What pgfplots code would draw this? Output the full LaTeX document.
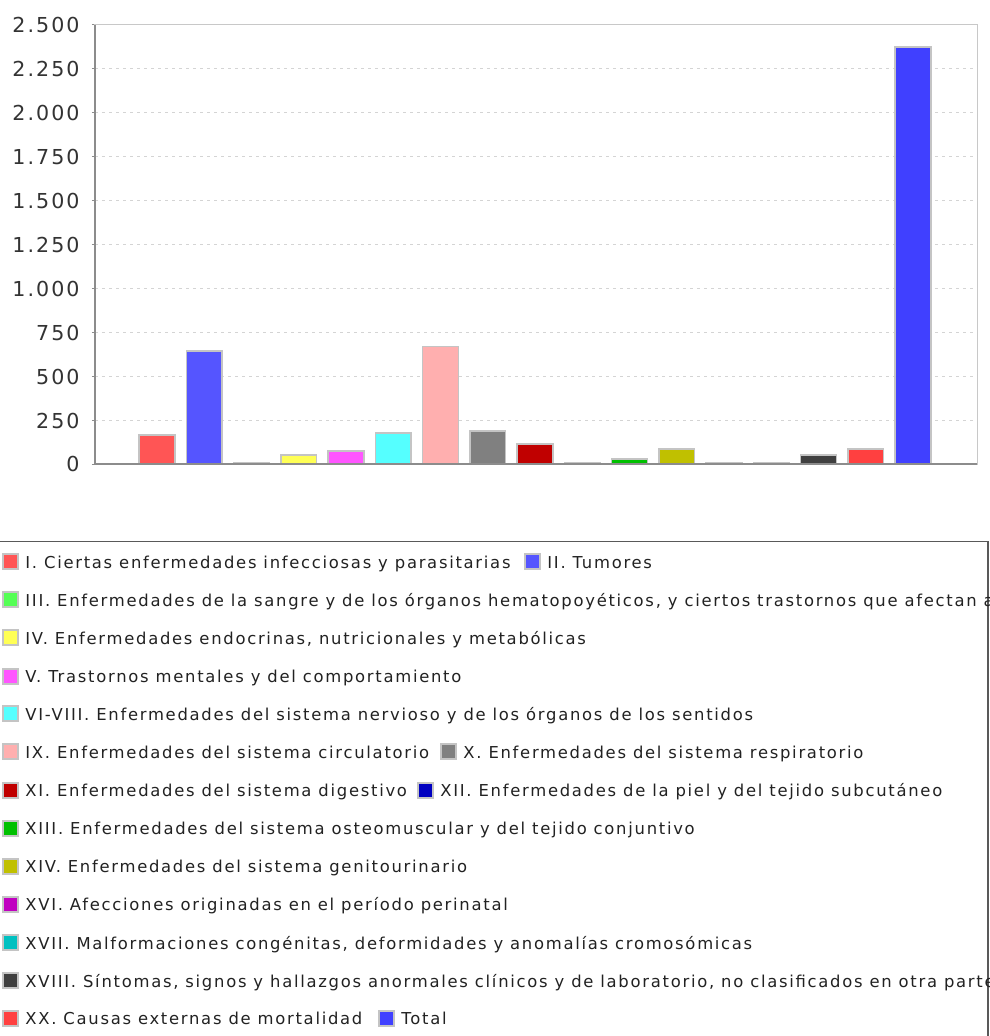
\documentclass[border=0pt]{standalone}
\usepackage{fontspec}
\setmainfont{DejaVu Sans}
\newfontfamily\legfont[LetterSpace=10.5]{DejaVu Sans}
\newfontfamily\tickfont[LetterSpace=10]{DejaVu Sans}
\usepackage{pgfplots}
\pgfplotsset{compat=1.18}
\definecolor{cI}{HTML}{FF5555}
\definecolor{cII}{HTML}{5555FF}
\definecolor{cIII}{HTML}{55FF55}
\definecolor{cIV}{HTML}{FFFF55}
\definecolor{cV}{HTML}{FF55FF}
\definecolor{cVI}{HTML}{55FFFF}
\definecolor{cIX}{HTML}{FFAFAF}
\definecolor{cX}{HTML}{808080}
\definecolor{cXI}{HTML}{C00000}
\definecolor{cXII}{HTML}{0000C0}
\definecolor{cXIII}{HTML}{00C000}
\definecolor{cXIV}{HTML}{C0C000}
\definecolor{cXVI}{HTML}{C000C0}
\definecolor{cXVII}{HTML}{00C0C0}
\definecolor{cXVIII}{HTML}{404040}
\definecolor{cXX}{HTML}{FF4040}
\definecolor{cTot}{HTML}{4040FF}
\definecolor{barline}{HTML}{C4C4C4}
\definecolor{gridc}{HTML}{D4D4D4}
\definecolor{axc}{HTML}{8C8C8C}
\definecolor{framec}{HTML}{C8C8C8}
\definecolor{txt}{HTML}{222222}
\definecolor{tickc}{HTML}{333333}
% coordinates given in image pixels (x right, y down); 1px = 0.5pt
\newcommand{\entry}[4]{%
  \filldraw[draw=barline, line width=1, fill=#3] ({#1},{1036-#2+7.5}) rectangle ({#1+15},{1036-#2-7.5});
  \node[anchor=base west, inner sep=0pt, text=txt, font=\legfont\fontsize{8.2}{9}\selectfont] at ({#1+22},{1036-#2-6.5}) {#4};}
\begin{document}
\begin{tikzpicture}[x=0.5pt,y=0.5pt]
\useasboundingbox (0,0) rectangle (989,1036);
\fill[white] (0,0) rectangle (989,1036);
\begin{axis}[
  at={(47.5pt,285.75pt)}, anchor=south west,
  scale only axis, width=441pt, height=219.75pt,
  xmin=-1.312, xmax=17.354, ymin=0, ymax=2500,
  xtick=\empty,
  ytick distance=250, ytick pos=left,
  tick align=outside, major tick length=1.5pt,
  every tick/.style={axc, line width=0.5pt},
  /pgf/number format/.cd, use comma, 1000 sep={.}, assume math mode=true,
  /pgfplots/.cd,
  yticklabel style={font=\tickfont\fontsize{10.3}{12}\selectfont, text=tickc, inner sep=0pt, xshift=-6pt},
  ymajorgrids, major grid style={gridc, dash pattern=on 1.5pt off 2pt, line width=0.5pt},
  axis line style={framec, line width=0.5pt},
  every axis plot/.append style={ybar, bar width=0.76, bar shift=0pt, draw=barline, line width=0.75pt},
  clip=false,
]
\addplot[fill=cI] coordinates {(0,168)};
\addplot[fill=cII] coordinates {(1,645)};
\addplot[fill=cIII] coordinates {(2,10)};
\addplot[fill=cIV] coordinates {(3,53)};
\addplot[fill=cV] coordinates {(4,76)};
\addplot[fill=cVI] coordinates {(5,178)};
\addplot[fill=cIX] coordinates {(6,672)};
\addplot[fill=cX] coordinates {(7,191)};
\addplot[fill=cXI] coordinates {(8,117)};
\addplot[fill=cXII] coordinates {(9,10)};
\addplot[fill=cXIII] coordinates {(10,32)};
\addplot[fill=cXIV] coordinates {(11,89)};
\addplot[fill=cXVI] coordinates {(12,10)};
\addplot[fill=cXVII] coordinates {(13,10)};
\addplot[fill=cXVIII] coordinates {(14,53)};
\addplot[fill=cXX] coordinates {(15,89)};
\addplot[fill=cTot] coordinates {(16,2375)};
\draw[axc, line width=1pt] (rel axis cs:0,1) -- (rel axis cs:0,0) -- (rel axis cs:1,0);
\end{axis}
% legend
\draw[draw=black!65, line width=0.75pt] (-20,-30) -- (-20,{1036-541.5}) -- (988,{1036-541.5}) -- (988,-30);
\entry{3}{562}{cI}{I. Ciertas enfermedades infecciosas y parasitarias}
\entry{525}{562}{cII}{II. Tumores}
\entry{3}{600}{cIII}{III. Enfermedades de la sangre y de los órganos hematopoyéticos, y ciertos trastornos que afectan al mecanismo de la inmunidad}
\entry{3}{638}{cIV}{IV. Enfermedades endocrinas, nutricionales y metabólicas}
\entry{3}{676.5}{cV}{V. Trastornos mentales y del comportamiento}
\entry{3}{714}{cVI}{VI-VIII. Enfermedades del sistema nervioso y de los órganos de los sentidos}
\entry{3}{752}{cIX}{IX. Enfermedades del sistema circulatorio}
\entry{441}{752}{cX}{X. Enfermedades del sistema respiratorio}
\entry{3}{790.5}{cXI}{XI. Enfermedades del sistema digestivo}
\entry{418}{790.5}{cXII}{XII. Enfermedades de la piel y del tejido subcutáneo}
\entry{3}{828.5}{cXIII}{XIII. Enfermedades del sistema osteomuscular y del tejido conjuntivo}
\entry{3}{866.5}{cXIV}{XIV. Enfermedades del sistema genitourinario}
\entry{3}{904.5}{cXVI}{XVI. Afecciones originadas en el período perinatal}
\entry{3}{943}{cXVII}{XVII. Malformaciones congénitas, deformidades y anomalías cromosómicas}
\entry{3}{981}{cXVIII}{XVIII. Síntomas, signos y hallazgos anormales clínicos y de laboratorio, no clasificados en otra parte}
\entry{3}{1018.5}{cXX}{XX. Causas externas de mortalidad}
\entry{379}{1018.5}{cTot}{Total}
\end{tikzpicture}
\end{document}
